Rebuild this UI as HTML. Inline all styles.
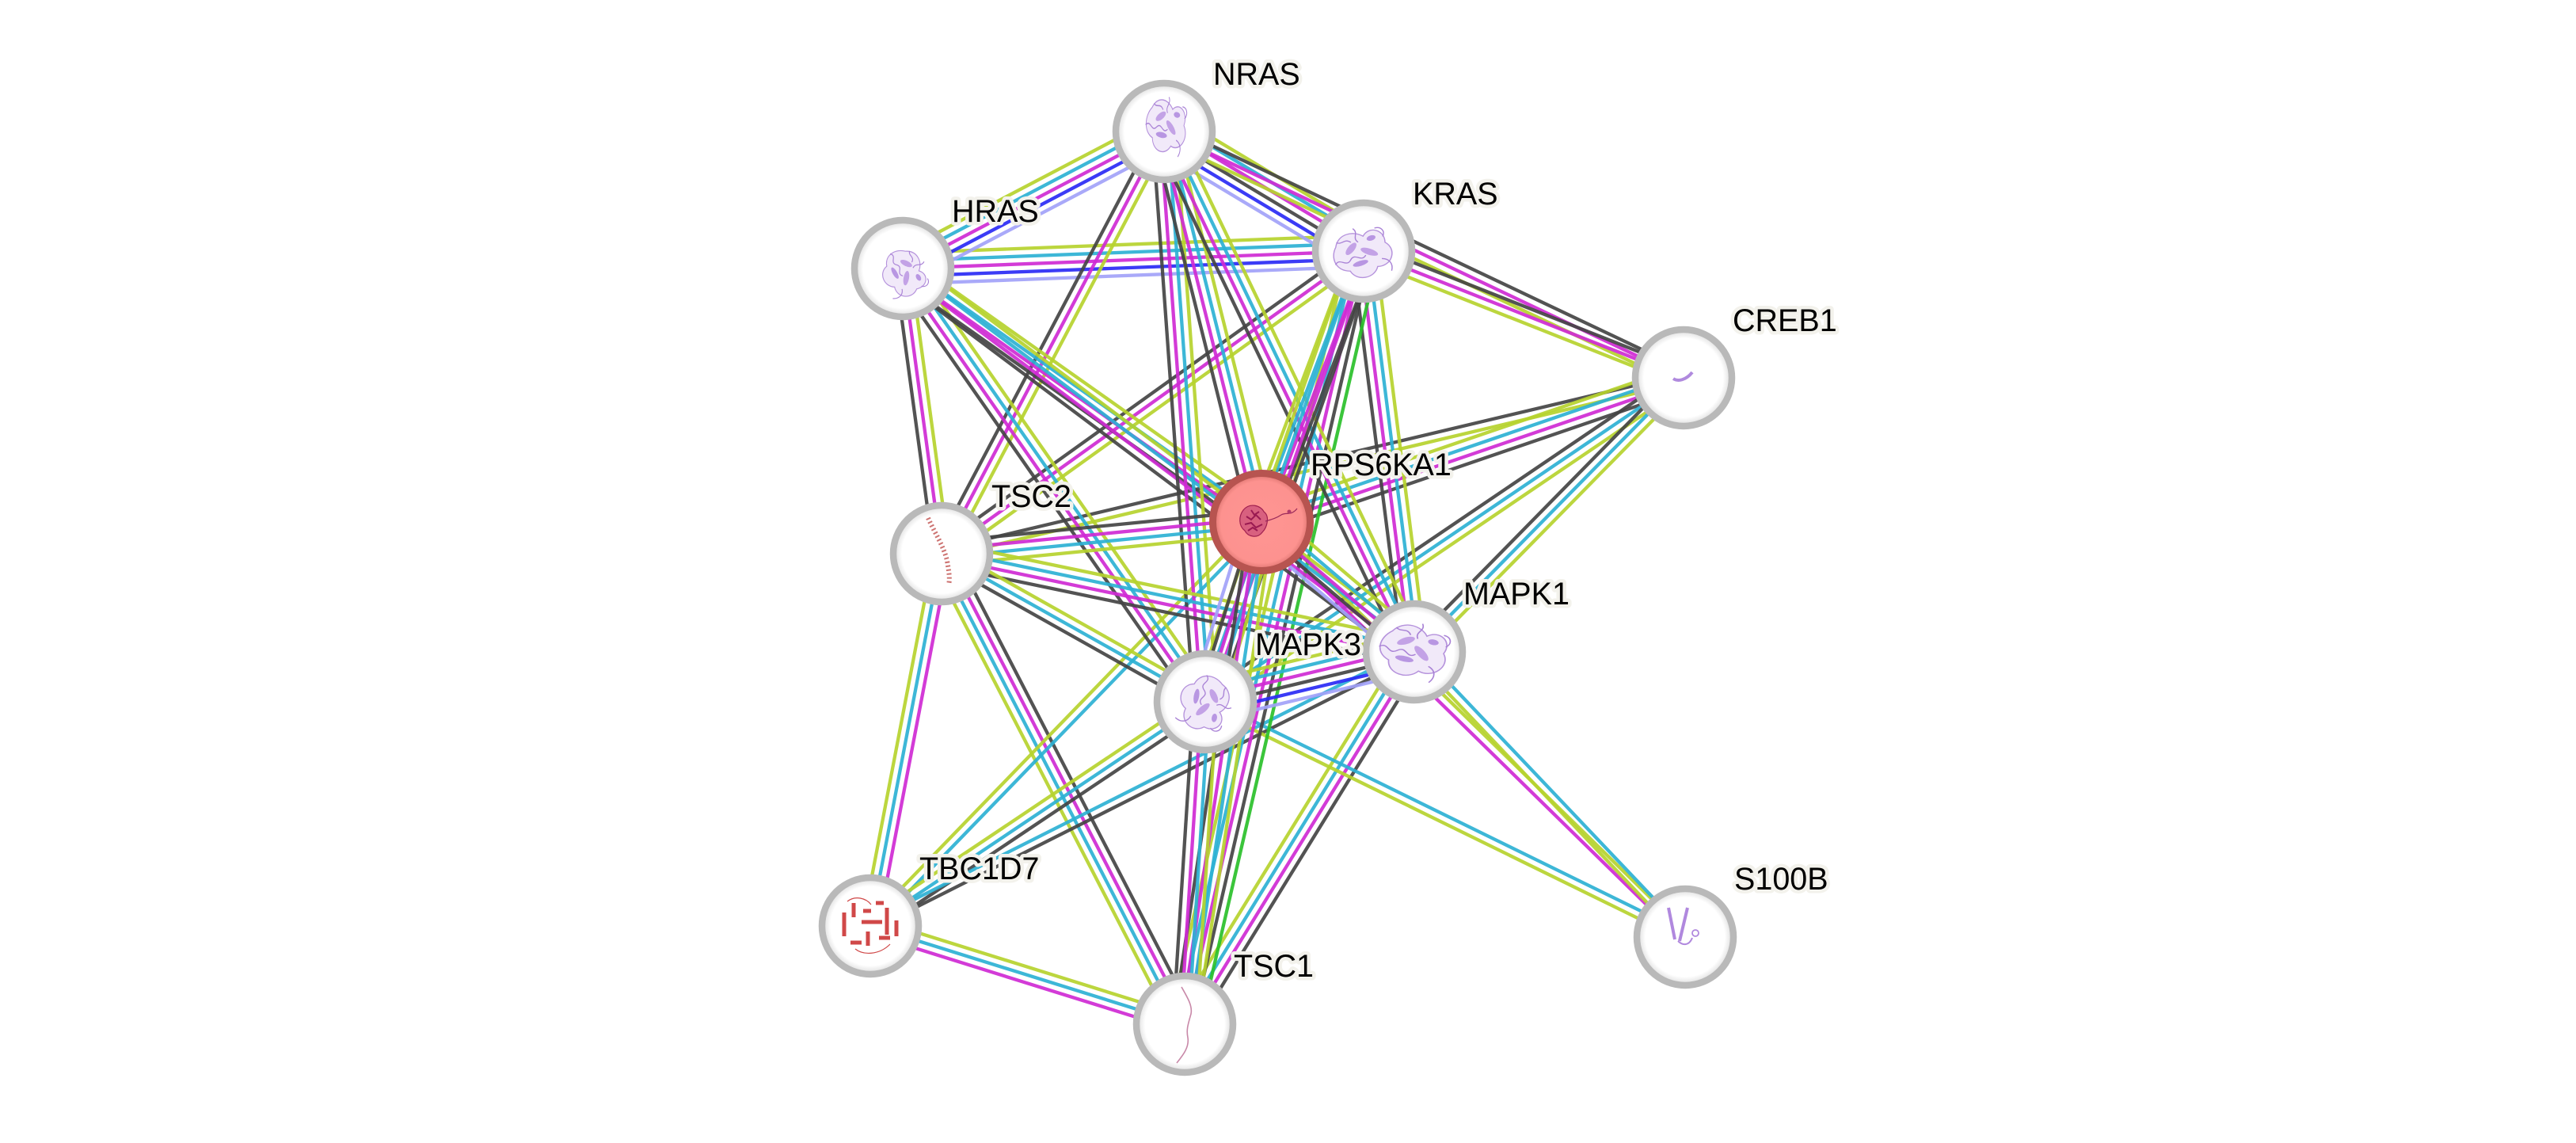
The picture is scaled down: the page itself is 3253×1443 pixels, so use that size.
<!DOCTYPE html>
<html><head><meta charset="utf-8"><style>
html,body{margin:0;padding:0;background:#fff;width:3253px;height:1443px;overflow:hidden}
svg{display:block}
line{stroke-width:4.3;stroke-opacity:.92}
.y{stroke:#b6d22e}.c{stroke:#2cb1d4}.m{stroke:#cf2ad4}.k{stroke:#444444}.b{stroke:#2a2af5}.l{stroke:#a2a2f8}.g{stroke:#2ac02a}
text{font-family:"Liberation Sans",Arial,sans-serif;font-size:39.5px;fill:#000;stroke:#f3f2ec;stroke-width:9px;paint-order:stroke;stroke-linejoin:round}
</style></head><body>
<svg width="3253" height="1443" viewBox="0 0 3253 1443" xmlns="http://www.w3.org/2000/svg">
<defs>
<radialGradient id="ng" cx="50%" cy="50%" r="50%"><stop offset="0" stop-color="#fff"/><stop offset="0.82" stop-color="#fff"/><stop offset="1" stop-color="#d9d9d9"/></radialGradient>
<radialGradient id="rg" cx="50%" cy="50%" r="50%"><stop offset="0" stop-color="#fe9593"/><stop offset="0.84" stop-color="#fd928f"/><stop offset="1" stop-color="#d9706c"/></radialGradient>
<g id="pp">
<path d="M-20,-12 C-14,-24 0,-22 6,-14 C14,-22 26,-14 22,-2 C30,8 20,22 8,18 C2,28 -14,26 -16,14 C-28,10 -28,-4 -20,-12Z" fill="#f1e9f9" stroke="#b592dc" stroke-width="1"/>
<ellipse cx="-8" cy="-6" rx="7" ry="3" fill="#c3a2e6" transform="rotate(-35 -8 -6)"/>
<ellipse cx="6" cy="2" rx="8" ry="3" fill="#c3a2e6" transform="rotate(40 6 2)"/>
<ellipse cx="-5" cy="10" rx="7" ry="2.5" fill="#b896e2"/>
<ellipse cx="12" cy="-10" rx="4" ry="2.5" fill="#b896e2"/>
<path d="M-26,4 c6,-6 8,6 14,0 s8,6 14,0 M0,-24 c4,6 -4,8 0,14 M14,12 c6,2 8,8 4,14 M18,-18 c6,0 8,6 4,10 M-18,-16 c4,4 8,-2 12,4" fill="none" stroke="#a982d6" stroke-width="1"/>
</g>
</defs>

<!-- edges -->
<g transform="translate(1140,339) rotate(-2.165)"><line x2="582.4" y1="-19.6" y2="-19.6" class="y"/><line x2="582.4" y1="-9.8" y2="-9.8" class="c"/><line x2="582.4" class="m"/><line x2="582.4" y1="9.8" y2="9.8" class="b"/><line x2="582.4" y1="19.6" y2="19.6" class="l"/></g>
<g transform="translate(1140,339) rotate(-27.66)"><line x2="372.6" y1="-19.6" y2="-19.6" class="y"/><line x2="372.6" y1="-9.8" y2="-9.8" class="c"/><line x2="372.6" class="m"/><line x2="372.6" y1="9.8" y2="9.8" class="b"/><line x2="372.6" y1="19.6" y2="19.6" class="l"/></g>
<g transform="translate(1470,166) rotate(30.93)"><line x2="293.8" y1="-24.5" y2="-24.5" class="y"/><line x2="293.8" y1="-14.7" y2="-14.7" class="c"/><line x2="293.8" y1="-4.9" y2="-4.9" class="m"/><line x2="293.8" y1="4.9" y2="4.9" class="k"/><line x2="293.8" y1="14.7" y2="14.7" class="b"/><line x2="293.8" y1="24.5" y2="24.5" class="l"/></g>
<g transform="translate(1470,166) rotate(25.37)"><line x2="726" y1="-9.8" y2="-9.8" class="k"/><line x2="726" class="m"/><line x2="726" y1="9.8" y2="9.8" class="y"/></g>
<g transform="translate(1722,317) rotate(21.6)"><line x2="434.5" y1="-9.8" y2="-9.8" class="k"/><line x2="434.5" class="m"/><line x2="434.5" y1="9.8" y2="9.8" class="y"/></g>
<g transform="translate(2126,477) rotate(166.67)"><line x2="963" y1="-4.9" y2="-4.9" class="y"/><line x2="963" y1="4.9" y2="4.9" class="k"/></g>
<g transform="translate(2126,477) rotate(161.15)"><line x2="563.2" y1="-14.7" y2="-14.7" class="k"/><line x2="563.2" y1="-4.9" y2="-4.9" class="m"/><line x2="563.2" y1="4.9" y2="4.9" class="c"/><line x2="563.2" y1="14.7" y2="14.7" class="y"/></g>
<g transform="translate(2126,477) rotate(145.89)"><line x2="729.4" y1="-9.8" y2="-9.8" class="y"/><line x2="729.4" class="c"/><line x2="729.4" y1="9.8" y2="9.8" class="k"/></g>
<g transform="translate(2126,477) rotate(134.5)"><line x2="485.1" y1="-9.8" y2="-9.8" class="y"/><line x2="485.1" class="c"/><line x2="485.1" y1="9.8" y2="9.8" class="k"/></g>
<g transform="translate(1140,339) rotate(82.25)"><line x2="363.3" y1="-9.8" y2="-9.8" class="y"/><line x2="363.3" class="m"/><line x2="363.3" y1="9.8" y2="9.8" class="k"/></g>
<g transform="translate(1470,166) rotate(117.8)"><line x2="602.5" y1="-9.8" y2="-9.8" class="y"/><line x2="602.5" class="m"/><line x2="602.5" y1="9.8" y2="9.8" class="k"/></g>
<g transform="translate(1722,317) rotate(144.37)"><line x2="655.8" y1="-9.8" y2="-9.8" class="y"/><line x2="655.8" class="m"/><line x2="655.8" y1="9.8" y2="9.8" class="k"/></g>
<g transform="translate(1189,699) rotate(100.84)"><line x2="478.5" y1="-9.8" y2="-9.8" class="m"/><line x2="478.5" class="c"/><line x2="478.5" y1="9.8" y2="9.8" class="y"/></g>
<g transform="translate(1099,1169) rotate(17.35)"><line x2="415.9" y1="-9.8" y2="-9.8" class="y"/><line x2="415.9" class="c"/><line x2="415.9" y1="9.8" y2="9.8" class="m"/></g>
<g transform="translate(1189,699) rotate(62.67)"><line x2="668.6" y1="-14.7" y2="-14.7" class="k"/><line x2="668.6" y1="-4.9" y2="-4.9" class="m"/><line x2="668.6" y1="4.9" y2="4.9" class="c"/><line x2="668.6" y1="14.7" y2="14.7" class="y"/></g>
<g transform="translate(1099,1169) rotate(-45.91)"><line x2="710" y1="-4.9" y2="-4.9" class="y"/><line x2="710" y1="4.9" y2="4.9" class="c"/></g>
<g transform="translate(1099,1169) rotate(-33.79)"><line x2="508.9" y1="-9.8" y2="-9.8" class="y"/><line x2="508.9" class="c"/><line x2="508.9" y1="9.8" y2="9.8" class="k"/></g>
<g transform="translate(1099,1169) rotate(-26.73)"><line x2="769.2" y1="-4.9" y2="-4.9" class="c"/><line x2="769.2" y1="4.9" y2="4.9" class="k"/></g>
<g transform="translate(1496,1293) rotate(-58.33)"><line x2="552.3" y1="-14.7" y2="-14.7" class="y"/><line x2="552.3" y1="-4.9" y2="-4.9" class="c"/><line x2="552.3" y1="4.9" y2="4.9" class="m"/><line x2="552.3" y1="14.7" y2="14.7" class="k"/></g>
<g transform="translate(1722,317) rotate(82.79)"><line x2="510" y1="-14.7" y2="-14.7" class="y"/><line x2="510" y1="-4.9" y2="-4.9" class="c"/><line x2="510" y1="4.9" y2="4.9" class="m"/><line x2="510" y1="14.7" y2="14.7" class="k"/></g>
<g transform="translate(1593,659) rotate(44.41)"><line x2="748.9" y1="-4.9" y2="-4.9" class="y"/><line x2="748.9" y1="4.9" y2="4.9" class="m"/></g>
<g transform="translate(1786,823) rotate(46.47)"><line x2="496.6" y1="-4.9" y2="-4.9" class="c"/><line x2="496.6" y1="4.9" y2="4.9" class="y"/></g>
<g transform="translate(1522,886) rotate(26.11)"><line x2="674.9" y1="-4.9" y2="-4.9" class="c"/><line x2="674.9" y1="4.9" y2="4.9" class="y"/></g>
<g transform="translate(1722,317) rotate(103.04)"><line x2="1001.8" y1="-19.6" y2="-19.6" class="g"/><line x2="1001.8" y1="-9.8" y2="-9.8" class="k"/><line x2="1001.8" class="m"/><line x2="1001.8" y1="9.8" y2="9.8" class="c"/><line x2="1001.8" y1="19.6" y2="19.6" class="y"/></g>
<g transform="translate(1140,339) rotate(55.07)"><line x2="667.2" y1="-14.7" y2="-14.7" class="y"/><line x2="667.2" y1="-4.9" y2="-4.9" class="c"/><line x2="667.2" y1="4.9" y2="4.9" class="m"/><line x2="667.2" y1="14.7" y2="14.7" class="k"/></g>
<g transform="translate(1140,339) rotate(35.24)"><line x2="554.6" y1="-14.7" y2="-14.7" class="y"/><line x2="554.6" y1="-4.9" y2="-4.9" class="c"/><line x2="554.6" y1="4.9" y2="4.9" class="m"/><line x2="554.6" y1="14.7" y2="14.7" class="k"/></g>
<g transform="translate(1140,339) rotate(36.84)"><line x2="807.2" y1="-14.7" y2="-14.7" class="y"/><line x2="807.2" y1="-4.9" y2="-4.9" class="c"/><line x2="807.2" y1="4.9" y2="4.9" class="m"/><line x2="807.2" y1="14.7" y2="14.7" class="k"/></g>
<g transform="translate(1470,166) rotate(85.87)"><line x2="721.9" y1="-14.7" y2="-14.7" class="y"/><line x2="721.9" y1="-4.9" y2="-4.9" class="c"/><line x2="721.9" y1="4.9" y2="4.9" class="m"/><line x2="721.9" y1="14.7" y2="14.7" class="k"/></g>
<g transform="translate(1470,166) rotate(75.99)"><line x2="508.1" y1="-14.7" y2="-14.7" class="y"/><line x2="508.1" y1="-4.9" y2="-4.9" class="c"/><line x2="508.1" y1="4.9" y2="4.9" class="m"/><line x2="508.1" y1="14.7" y2="14.7" class="k"/></g>
<g transform="translate(1470,166) rotate(64.31)"><line x2="729" y1="-14.7" y2="-14.7" class="y"/><line x2="729" y1="-4.9" y2="-4.9" class="c"/><line x2="729" y1="4.9" y2="4.9" class="m"/><line x2="729" y1="14.7" y2="14.7" class="k"/></g>
<g transform="translate(1722,317) rotate(110.67)"><line x2="365.5" y1="-14.7" y2="-14.7" class="k"/><line x2="365.5" y1="-4.9" y2="-4.9" class="m"/><line x2="365.5" y1="4.9" y2="4.9" class="c"/><line x2="365.5" y1="14.7" y2="14.7" class="y"/></g>
<g transform="translate(1722,317) rotate(109.37)"><line x2="603.1" y1="-14.7" y2="-14.7" class="k"/><line x2="603.1" y1="-4.9" y2="-4.9" class="m"/><line x2="603.1" y1="4.9" y2="4.9" class="c"/><line x2="603.1" y1="14.7" y2="14.7" class="y"/></g>
<g transform="translate(1593,659) rotate(174.35)"><line x2="406" y1="-14.7" y2="-14.7" class="y"/><line x2="406" y1="-4.9" y2="-4.9" class="c"/><line x2="406" y1="4.9" y2="4.9" class="m"/><line x2="406" y1="14.7" y2="14.7" class="k"/></g>
<g transform="translate(1189,699) rotate(11.73)"><line x2="609.7" y1="-14.7" y2="-14.7" class="y"/><line x2="609.7" y1="-4.9" y2="-4.9" class="c"/><line x2="609.7" y1="4.9" y2="4.9" class="m"/><line x2="609.7" y1="14.7" y2="14.7" class="k"/></g>
<g transform="translate(1189,699) rotate(29.31)"><line x2="381.9" y1="-9.8" y2="-9.8" class="y"/><line x2="381.9" class="c"/><line x2="381.9" y1="9.8" y2="9.8" class="k"/></g>
<g transform="translate(1593,659) rotate(107.37)"><line x2="237.8" y1="-19.6" y2="-19.6" class="y"/><line x2="237.8" y1="-9.8" y2="-9.8" class="c"/><line x2="237.8" class="m"/><line x2="237.8" y1="9.8" y2="9.8" class="k"/><line x2="237.8" y1="19.6" y2="19.6" class="l"/></g>
<g transform="translate(1593,659) rotate(40.35)"><line x2="253.3" y1="-19.6" y2="-19.6" class="y"/><line x2="253.3" y1="-9.8" y2="-9.8" class="c"/><line x2="253.3" class="m"/><line x2="253.3" y1="9.8" y2="9.8" class="k"/><line x2="253.3" y1="19.6" y2="19.6" class="l"/></g>
<g transform="translate(1593,659) rotate(98.70)"><line x2="641.4" y1="-14.7" y2="-14.7" class="y"/><line x2="641.4" y1="-4.9" y2="-4.9" class="c"/><line x2="641.4" y1="4.9" y2="4.9" class="m"/><line x2="641.4" y1="14.7" y2="14.7" class="k"/></g>
<g transform="translate(1522,886) rotate(93.66)"><line x2="407.8" y1="-14.7" y2="-14.7" class="y"/><line x2="407.8" y1="-4.9" y2="-4.9" class="c"/><line x2="407.8" y1="4.9" y2="4.9" class="m"/><line x2="407.8" y1="14.7" y2="14.7" class="k"/></g>
<g transform="translate(1522,886) rotate(-13.42)"><line x2="271.4" y1="-24.5" y2="-24.5" class="y"/><line x2="271.4" y1="-14.7" y2="-14.7" class="c"/><line x2="271.4" y1="-4.9" y2="-4.9" class="m"/><line x2="271.4" y1="4.9" y2="4.9" class="k"/><line x2="271.4" y1="14.7" y2="14.7" class="b"/><line x2="271.4" y1="24.5" y2="24.5" class="l"/></g>

<!-- nodes -->
<g stroke="#b9b9b9" stroke-width="8.5" fill="url(#ng)">
<circle cx="1470" cy="166" r="61"/>
<circle cx="1140" cy="339" r="61"/>
<circle cx="1722" cy="317" r="61"/>
<circle cx="2126" cy="477" r="61"/>
<circle cx="1189" cy="699" r="61"/>
<circle cx="1786" cy="823" r="61"/>
<circle cx="1522" cy="886" r="61"/>
<circle cx="1099" cy="1169" r="61"/>
<circle cx="1496" cy="1293" r="61"/>
<circle cx="2128" cy="1183" r="61"/>
</g>
<circle cx="1593" cy="659" r="61.5" fill="url(#rg)" stroke="#b75450" stroke-width="9"/>

<!-- structure sketches -->
<use href="#pp" transform="translate(1473,157) scale(1.0,1.45) rotate(8)"/>
<use href="#pp" transform="translate(1143,344) scale(1.15) rotate(60)"/>
<use href="#pp" transform="translate(1720,318) scale(1.45,1.3) rotate(-20)"/>
<use href="#pp" transform="translate(1786,820) scale(1.7,1.4) rotate(15)"/>
<use href="#pp" transform="translate(1523,888) scale(1.35) rotate(100)"/>
<g transform="translate(2125,1172)" fill="none" stroke="#b088de" stroke-width="4">
<path d="M-18,-26 L-10,14"/><path d="M6,-26 L-4,16"/><path d="M-6,16 c6,6 14,6 18,-4" stroke-width="2"/><circle cx="16" cy="6" r="4" stroke-width="1.8"/>
</g>
<path d="M2113,478 c6,4 16,2 24,-8" fill="none" stroke="#b08ade" stroke-width="4"/>
<g transform="translate(1586,658)">
<path d="M-16,-14 C-8,-24 6,-20 10,-12 C18,-6 14,8 8,14 C2,22 -10,20 -14,12 C-22,6 -22,-6 -16,-14Z" fill="#d8607f" stroke="#a02050" stroke-width="1.2"/>
<path d="M-12,-6 l6,4 l6,-6 l6,6 M-14,4 l8,-2 l6,6 l8,-4 M-6,-14 l4,6 l6,-4 M-10,12 l6,-4 l6,4" fill="none" stroke="#9a1a52" stroke-width="2"/>
<path d="M12,0 c8,-2 14,-4 20,-8 c6,-4 12,2 20,-8" fill="none" stroke="#9a2a5a" stroke-width="1.2"/>
<circle cx="42" cy="-12" r="2.5" fill="#b03a6a"/>
</g>
<path d="M1172,654 C1180,672 1192,690 1196,708 C1198,720 1200,730 1198,738" fill="none" stroke="#c0504d" stroke-width="6" stroke-dasharray="2 3" opacity="0.8"/>
<g transform="translate(1100,1168)" fill="none" stroke="#d04848" stroke-width="5">
<path d="M-34,-16 l0,30 M-22,-28 l0,18 M-12,-4 l26,0 M-26,22 l14,0 M6,-28 l10,0 M20,-22 l0,34 M32,-6 l0,20 M-4,8 l0,18 M10,16 l14,0 M-10,-18 l10,0"/>
<path d="M-30,-30 c10,-8 24,-4 30,4 M-20,30 c10,8 30,8 44,-6" stroke-width="1.2"/>
</g>
<path d="M1492,1246 c8,14 14,24 12,34 c-4,14 -6,20 -4,30 c2,12 -6,22 -14,32" fill="none" stroke="#c888a8" stroke-width="1.6"/>

<!-- labels -->
<text x="1532" y="107">NRAS</text>
<text x="1202" y="280">HRAS</text>
<text x="1784" y="258">KRAS</text>
<text x="2188" y="418">CREB1</text>
<text x="1655" y="600">RPS6KA1</text>
<text x="1252" y="640">TSC2</text>
<text x="1848" y="763">MAPK1</text>
<text x="1585" y="827">MAPK3</text>
<text x="1161" y="1110">TBC1D7</text>
<text x="1558" y="1233">TSC1</text>
<text x="2190" y="1123">S100B</text>
</svg>
</body></html>
